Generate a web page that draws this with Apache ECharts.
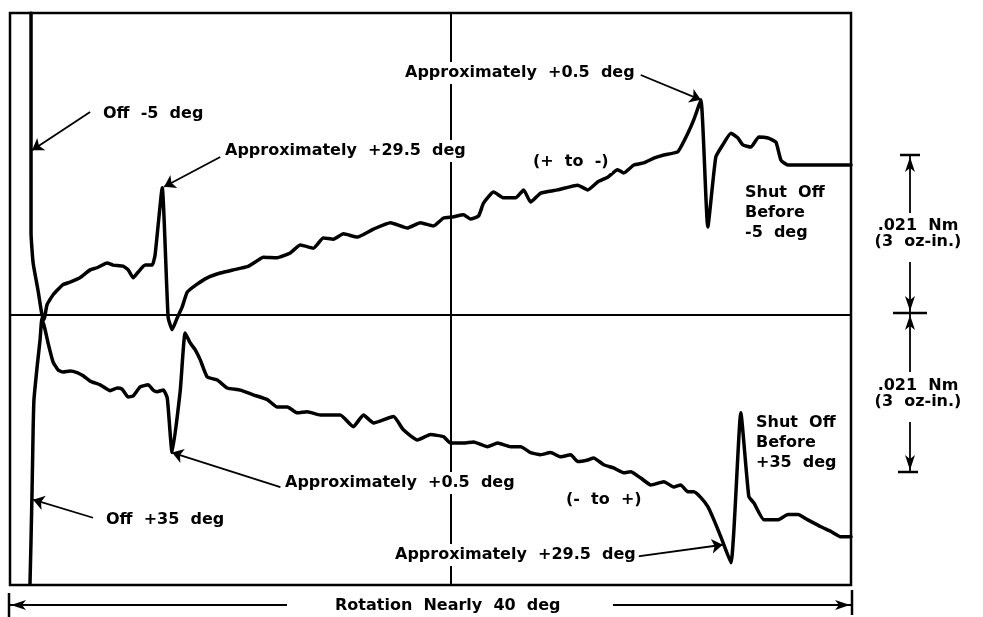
<!DOCTYPE html>
<html>
<head>
<meta charset="utf-8">
<script src="https://cdn.jsdelivr.net/npm/echarts@6/dist/echarts.min.js"></script>
<style>
  html, body { margin: 0; padding: 0; background: #fff; }
  #chart { width: 983px; height: 617px; }
</style>
</head>
<body>
<div id="chart"></div>
<script>
// x: rotation in deg (frame is ~40 deg wide), y: torque in oz-in
const plusToMinus = [
  [1.00, 5.70], [1.00, 3.11], [1.00, 1.55], [1.10, 0.98], [1.33, 0.47], [1.52, 0.00],
  [1.62, -0.08], [1.76, 0.19], [2.05, 0.38], [2.52, 0.57], [2.86, 0.62], [3.33, 0.70],
  [3.81, 0.85], [4.14, 0.89], [4.62, 0.98], [4.90, 0.94], [5.38, 0.92], [5.62, 0.85],
  [5.86, 0.70], [6.10, 0.81], [6.43, 0.94], [6.76, 0.94], [6.90, 1.13], [7.24, 2.40],
  [7.52, -0.04], [7.71, -0.28], [7.95, -0.06], [8.19, 0.15], [8.43, 0.43], [8.90, 0.58],
  [9.38, 0.70], [10.00, 0.79], [10.62, 0.85], [11.29, 0.91], [11.67, 1.00], [12.05, 1.09],
  [12.71, 1.08], [13.33, 1.17], [13.81, 1.32], [14.43, 1.26], [14.90, 1.45], [15.38, 1.43],
  [15.86, 1.53], [16.52, 1.47], [17.29, 1.62], [18.10, 1.74], [18.90, 1.64], [19.52, 1.74],
  [20.14, 1.68], [20.62, 1.83], [21.05, 1.85], [21.57, 1.89], [21.90, 1.81], [22.29, 1.87],
  [22.52, 2.11], [23.00, 2.32], [23.48, 2.21], [24.05, 2.21], [24.43, 2.36], [24.76, 2.13],
  [25.24, 2.30], [26.05, 2.36], [27.00, 2.45], [27.48, 2.36], [27.95, 2.51], [28.43, 2.60],
  [28.90, 2.74], [29.19, 2.68], [29.67, 2.83], [30.14, 2.87], [30.62, 2.96], [31.10, 3.02],
  [31.76, 3.08], [32.24, 3.43], [32.52, 3.68], [32.86, 4.06], [33.19, 1.66], [33.57, 2.98],
  [33.90, 3.21], [34.29, 3.43], [34.62, 3.34], [34.86, 3.21], [35.24, 3.17], [35.62, 3.36],
  [36.05, 3.34], [36.43, 3.26], [36.67, 2.92], [37.00, 2.83], [40.00, 2.83]
]

const minusToPlus = [
  [0.95, -5.09], [1.00, -4.25], [1.05, -3.30], [1.10, -2.17], [1.14, -1.60], [1.29, -0.98],
  [1.43, -0.47], [1.52, -0.06], [1.67, -0.28], [1.81, -0.53], [2.05, -0.89], [2.29, -1.04],
  [2.52, -1.08], [2.86, -1.06], [3.19, -1.09], [3.48, -1.15], [3.81, -1.25], [4.29, -1.32],
  [4.76, -1.43], [5.10, -1.38], [5.33, -1.40], [5.62, -1.55], [5.86, -1.53], [6.19, -1.36],
  [6.57, -1.32], [6.81, -1.42], [7.00, -1.45], [7.29, -1.42], [7.48, -1.57], [7.71, -2.60],
  [8.10, -1.42], [8.33, -0.34], [8.57, -0.53], [8.81, -0.66], [9.05, -0.85], [9.38, -1.17],
  [9.86, -1.23], [10.33, -1.38], [10.95, -1.42], [11.57, -1.51], [12.24, -1.60], [12.71, -1.74],
  [13.19, -1.74], [13.67, -1.85], [14.14, -1.83], [14.76, -1.89], [15.24, -1.89], [15.71, -1.89],
  [16.33, -2.11], [16.81, -1.89], [17.29, -2.04], [18.24, -1.92], [18.71, -2.17], [19.38, -2.36],
  [20.00, -2.26], [20.62, -2.30], [20.95, -2.42], [21.57, -2.42], [22.05, -2.40], [22.71, -2.49],
  [23.19, -2.42], [23.81, -2.49], [24.29, -2.49], [24.76, -2.60], [25.24, -2.64], [25.71, -2.60],
  [26.19, -2.68], [26.67, -2.64], [27.00, -2.77], [27.48, -2.74], [27.76, -2.70], [28.24, -2.83],
  [28.71, -2.89], [29.19, -2.98], [29.52, -2.96], [30.00, -3.08], [30.48, -3.21], [31.10, -3.15],
  [31.57, -3.25], [31.90, -3.21], [32.24, -3.34], [32.52, -3.34], [32.86, -3.45], [33.19, -3.62],
  [33.48, -3.87], [33.81, -4.19], [34.29, -4.68], [34.76, -1.85], [35.14, -3.43], [35.38, -3.55],
  [35.86, -3.87], [36.52, -3.87], [37.00, -3.77], [37.48, -3.77], [37.95, -3.87], [38.57, -4.00],
  [39.05, -4.09], [39.52, -4.19], [40.00, -4.19]
]

const centerDeg = 20.95

// annotation arrows: [tail, tip] in data units
const noteArrows = [
  [[3.81, 3.83], [1.05, 3.11]],
  [[10.00, 2.98], [7.33, 2.42]],
  [[30.00, 4.53], [32.86, 4.06]],
  [[12.86, -3.25], [7.71, -2.60]],
  [[3.95, -3.83], [1.10, -3.49]],
  [[29.52, -4.58], [33.90, -4.34]]
]

const notes = [
  { text: 'Off  -5  deg', x: 100, y: 114 },
  { text: 'Approximately  +29.5  deg', x: 222, y: 151 },
  { text: 'Approximately  +0.5  deg', x: 402, y: 73 },
  { text: '(+  to  -)', x: 530, y: 162 },
  { text: 'Shut  Off\nBefore\n-5  deg', x: 742, y: 213 },
  { text: 'Approximately  +0.5  deg', x: 282, y: 483 },
  { text: 'Off  +35  deg', x: 103, y: 520 },
  { text: '(-  to  +)', x: 563, y: 500 },
  { text: 'Approximately  +29.5  deg', x: 392, y: 555 },
  { text: 'Shut  Off\nBefore\n+35  deg', x: 753, y: 443 },
  { text: 'Rotation  Nearly  40  deg', x: 332, y: 606 }
]

const FONT = 'bold 16px "DejaVu Sans"'

const chart = echarts.init(document.getElementById('chart'))

const noteTexts = notes.map(n => ({
  type: 'text',
  z: 100,
  x: n.x,
  y: n.y,
  style: {
    text: n.text,
    font: FONT,
    fill: '#000',
    align: 'left',
    verticalAlign: 'middle',
    lineHeight: 20,
    backgroundColor: '#fff',
    padding: [1, 3]
  }
}))

function arrowHead(x, y, dir) {
  // narrow filled arrowhead, tip at (x, y)
  const l = 15, w = 5
  let pts
  if (dir === 'up') pts = [[x, y], [x - w, y + l], [x, y + l - 4], [x + w, y + l]]
  if (dir === 'down') pts = [[x, y], [x - w, y - l], [x, y - l + 4], [x + w, y - l]]
  if (dir === 'left') pts = [[x, y], [x + l, y - w], [x + l - 4, y], [x + l, y + w]]
  if (dir === 'right') pts = [[x, y], [x - l, y - w], [x - l + 4, y], [x - l, y + w]]
  return { type: 'polygon', z: 100, shape: { points: pts }, style: { fill: '#000' } }
}

function seg(x1, y1, x2, y2, w) {
  return {
    type: 'line', z: 100,
    shape: { x1, y1, x2, y2 },
    style: { stroke: '#000', lineWidth: w || 2 }
  }
}

const dims = [
  // rotation span below the frame
  seg(9, 593, 9, 617, 2.5), seg(852, 590, 852, 615, 2.5),
  seg(10, 605, 287, 605, 1.8), seg(613, 605, 851, 605, 1.8),
  arrowHead(11, 605, 'left'), arrowHead(850, 605, 'right'),
  // torque scale at the right
  seg(900, 155, 920, 155, 2.5), seg(893, 313, 927, 313, 2.5), seg(898, 472, 918, 472, 2.5),
  seg(910, 156, 910, 213, 1.8), seg(910, 262, 910, 312, 1.8),
  seg(910, 314, 910, 372, 1.8), seg(910, 422, 910, 471, 1.8),
  arrowHead(910, 157, 'up'), arrowHead(910, 311, 'down'),
  arrowHead(910, 315, 'up'), arrowHead(910, 470, 'down'),
  {
    type: 'text', z: 100, x: 918, y: 234,
    style: { text: '.021  Nm\n(3  oz-in.)', font: FONT, fill: '#000', align: 'center', verticalAlign: 'middle', lineHeight: 16 }
  },
  {
    type: 'text', z: 100, x: 918, y: 394,
    style: { text: '.021  Nm\n(3  oz-in.)', font: FONT, fill: '#000', align: 'center', verticalAlign: 'middle', lineHeight: 16 }
  }
]

const curveStyle = { color: '#000', width: 3.5, join: 'round', cap: 'round' }

const option = {
  animation: false,
  backgroundColor: '#fff',
  grid: {
    left: 10, right: 132, top: 13, bottom: 32,
    show: true, borderColor: '#000', borderWidth: 2.5
  },
  xAxis: { type: 'value', min: 0, max: 40, show: false },
  yAxis: { type: 'value', min: -5.1, max: 5.7, show: false },
  series: [
    {
      name: '(+ to -)',
      type: 'line',
      data: plusToMinus,
      showSymbol: false,
      smooth: 0.15,
      lineStyle: curveStyle,
      markLine: {
        silent: true,
        symbol: 'none',
        label: { show: false },
        lineStyle: { color: '#000', width: 2, type: 'solid' },
        data: [{ yAxis: 0 }, { xAxis: centerDeg }]
      }
    },
    {
      name: '(- to +)',
      type: 'line',
      data: minusToPlus,
      showSymbol: false,
      smooth: 0.15,
      lineStyle: curveStyle,
      markLine: {
        silent: true,
        symbol: ['none', 'arrow'],
        symbolSize: 11,
        label: { show: false },
        lineStyle: { color: '#000', width: 1.8, type: 'solid' },
        data: noteArrows.map(a => [{ coord: a[0] }, { coord: a[1] }])
      }
    }
  ],
  graphic: noteTexts.concat(dims)
}

chart.setOption(option)
</script>
</body>
</html>
